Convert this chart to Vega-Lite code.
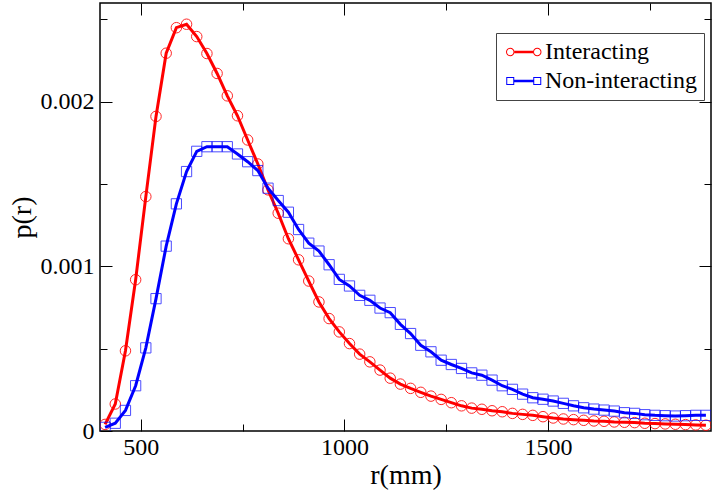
{
  "$schema": "https://vega.github.io/schema/vega-lite/v6.json",
  "width": 611,
  "height": 428,
  "autosize": "none",
  "padding": {"left": 100, "top": 3, "right": 4, "bottom": 59},
  "background": "white",
  "config": {
    "view": {"stroke": "#000", "strokeWidth": 1.5},
    "axis": {"domain": false, "grid": false, "tickColor": "#000", "tickWidth": 1, "labelFont": "Liberation Serif", "labelFontSize": 24, "labelColor": "#000", "titleFont": "Liberation Serif", "titleFontSize": 28, "titleFontWeight": "normal", "titleColor": "#000"},
    "legend": {"labelFont": "Liberation Serif", "labelFontSize": 24, "labelColor": "#000"}
  },
  "datasets": {
    "curves": [
      {"r": 412.5, "p": 0.00004, "series": "Interacting"},
      {"r": 437.5, "p": 0.000164, "series": "Interacting"},
      {"r": 462.5, "p": 0.000487, "series": "Interacting"},
      {"r": 487.5, "p": 0.000919, "series": "Interacting"},
      {"r": 512.5, "p": 0.001424, "series": "Interacting"},
      {"r": 537.5, "p": 0.001911, "series": "Interacting"},
      {"r": 562.5, "p": 0.002295, "series": "Interacting"},
      {"r": 587.5, "p": 0.00245, "series": "Interacting"},
      {"r": 612.5, "p": 0.002471, "series": "Interacting"},
      {"r": 637.5, "p": 0.002396, "series": "Interacting"},
      {"r": 662.5, "p": 0.002293, "series": "Interacting"},
      {"r": 687.5, "p": 0.002172, "series": "Interacting"},
      {"r": 712.5, "p": 0.002036, "series": "Interacting"},
      {"r": 737.5, "p": 0.001915, "series": "Interacting"},
      {"r": 762.5, "p": 0.001768, "series": "Interacting"},
      {"r": 787.5, "p": 0.001622, "series": "Interacting"},
      {"r": 812.5, "p": 0.001465, "series": "Interacting"},
      {"r": 837.5, "p": 0.001323, "series": "Interacting"},
      {"r": 862.5, "p": 0.001168, "series": "Interacting"},
      {"r": 887.5, "p": 0.00104, "series": "Interacting"},
      {"r": 912.5, "p": 0.000911, "series": "Interacting"},
      {"r": 937.5, "p": 0.000784, "series": "Interacting"},
      {"r": 962.5, "p": 0.000683, "series": "Interacting"},
      {"r": 987.5, "p": 0.000602, "series": "Interacting"},
      {"r": 1012.5, "p": 0.000531, "series": "Interacting"},
      {"r": 1037.5, "p": 0.000467, "series": "Interacting"},
      {"r": 1062.5, "p": 0.00042, "series": "Interacting"},
      {"r": 1087.5, "p": 0.00037, "series": "Interacting"},
      {"r": 1112.5, "p": 0.000321, "series": "Interacting"},
      {"r": 1137.5, "p": 0.000285, "series": "Interacting"},
      {"r": 1162.5, "p": 0.000259, "series": "Interacting"},
      {"r": 1187.5, "p": 0.000235, "series": "Interacting"},
      {"r": 1212.5, "p": 0.000212, "series": "Interacting"},
      {"r": 1237.5, "p": 0.000192, "series": "Interacting"},
      {"r": 1262.5, "p": 0.000172, "series": "Interacting"},
      {"r": 1287.5, "p": 0.000153, "series": "Interacting"},
      {"r": 1312.5, "p": 0.000139, "series": "Interacting"},
      {"r": 1337.5, "p": 0.000132, "series": "Interacting"},
      {"r": 1362.5, "p": 0.000123, "series": "Interacting"},
      {"r": 1387.5, "p": 0.000117, "series": "Interacting"},
      {"r": 1412.5, "p": 0.000107, "series": "Interacting"},
      {"r": 1437.5, "p": 0.000101, "series": "Interacting"},
      {"r": 1462.5, "p": 0.000095, "series": "Interacting"},
      {"r": 1487.5, "p": 0.000087, "series": "Interacting"},
      {"r": 1512.5, "p": 0.000079, "series": "Interacting"},
      {"r": 1537.5, "p": 0.000073, "series": "Interacting"},
      {"r": 1562.5, "p": 0.000069, "series": "Interacting"},
      {"r": 1587.5, "p": 0.000065, "series": "Interacting"},
      {"r": 1612.5, "p": 0.000061, "series": "Interacting"},
      {"r": 1637.5, "p": 0.000059, "series": "Interacting"},
      {"r": 1662.5, "p": 0.000055, "series": "Interacting"},
      {"r": 1687.5, "p": 0.000053, "series": "Interacting"},
      {"r": 1712.5, "p": 0.000051, "series": "Interacting"},
      {"r": 1737.5, "p": 0.000047, "series": "Interacting"},
      {"r": 1762.5, "p": 0.000045, "series": "Interacting"},
      {"r": 1787.5, "p": 0.000043, "series": "Interacting"},
      {"r": 1812.5, "p": 0.000041, "series": "Interacting"},
      {"r": 1837.5, "p": 0.000039, "series": "Interacting"},
      {"r": 1862.5, "p": 0.000037, "series": "Interacting"},
      {"r": 1887.5, "p": 0.000035, "series": "Interacting"},
      {"r": 412.5, "p": 0.000022, "series": "Non-interacting"},
      {"r": 437.5, "p": 0.000047, "series": "Non-interacting"},
      {"r": 462.5, "p": 0.000125, "series": "Non-interacting"},
      {"r": 487.5, "p": 0.000275, "series": "Non-interacting"},
      {"r": 512.5, "p": 0.000505, "series": "Non-interacting"},
      {"r": 537.5, "p": 0.000804, "series": "Non-interacting"},
      {"r": 562.5, "p": 0.001123, "series": "Non-interacting"},
      {"r": 587.5, "p": 0.00138, "series": "Non-interacting"},
      {"r": 612.5, "p": 0.001576, "series": "Non-interacting"},
      {"r": 637.5, "p": 0.001699, "series": "Non-interacting"},
      {"r": 662.5, "p": 0.001727, "series": "Non-interacting"},
      {"r": 687.5, "p": 0.001727, "series": "Non-interacting"},
      {"r": 712.5, "p": 0.001727, "series": "Non-interacting"},
      {"r": 737.5, "p": 0.001683, "series": "Non-interacting"},
      {"r": 762.5, "p": 0.001636, "series": "Non-interacting"},
      {"r": 787.5, "p": 0.001582, "series": "Non-interacting"},
      {"r": 812.5, "p": 0.001475, "series": "Non-interacting"},
      {"r": 837.5, "p": 0.0014, "series": "Non-interacting"},
      {"r": 862.5, "p": 0.001329, "series": "Non-interacting"},
      {"r": 887.5, "p": 0.001224, "series": "Non-interacting"},
      {"r": 912.5, "p": 0.001141, "series": "Non-interacting"},
      {"r": 937.5, "p": 0.001093, "series": "Non-interacting"},
      {"r": 962.5, "p": 0.00101, "series": "Non-interacting"},
      {"r": 987.5, "p": 0.000921, "series": "Non-interacting"},
      {"r": 1012.5, "p": 0.000881, "series": "Non-interacting"},
      {"r": 1037.5, "p": 0.000824, "series": "Non-interacting"},
      {"r": 1062.5, "p": 0.000794, "series": "Non-interacting"},
      {"r": 1087.5, "p": 0.000747, "series": "Non-interacting"},
      {"r": 1112.5, "p": 0.000719, "series": "Non-interacting"},
      {"r": 1137.5, "p": 0.000648, "series": "Non-interacting"},
      {"r": 1162.5, "p": 0.000592, "series": "Non-interacting"},
      {"r": 1187.5, "p": 0.000521, "series": "Non-interacting"},
      {"r": 1212.5, "p": 0.000481, "series": "Non-interacting"},
      {"r": 1237.5, "p": 0.00043, "series": "Non-interacting"},
      {"r": 1262.5, "p": 0.000404, "series": "Non-interacting"},
      {"r": 1287.5, "p": 0.00038, "series": "Non-interacting"},
      {"r": 1312.5, "p": 0.000353, "series": "Non-interacting"},
      {"r": 1337.5, "p": 0.000339, "series": "Non-interacting"},
      {"r": 1362.5, "p": 0.000309, "series": "Non-interacting"},
      {"r": 1387.5, "p": 0.000275, "series": "Non-interacting"},
      {"r": 1412.5, "p": 0.000253, "series": "Non-interacting"},
      {"r": 1437.5, "p": 0.000224, "series": "Non-interacting"},
      {"r": 1462.5, "p": 0.000202, "series": "Non-interacting"},
      {"r": 1487.5, "p": 0.000193, "series": "Non-interacting"},
      {"r": 1512.5, "p": 0.000182, "series": "Non-interacting"},
      {"r": 1537.5, "p": 0.000168, "series": "Non-interacting"},
      {"r": 1562.5, "p": 0.000153, "series": "Non-interacting"},
      {"r": 1587.5, "p": 0.000141, "series": "Non-interacting"},
      {"r": 1612.5, "p": 0.000133, "series": "Non-interacting"},
      {"r": 1637.5, "p": 0.000127, "series": "Non-interacting"},
      {"r": 1662.5, "p": 0.000121, "series": "Non-interacting"},
      {"r": 1687.5, "p": 0.000111, "series": "Non-interacting"},
      {"r": 1712.5, "p": 0.000107, "series": "Non-interacting"},
      {"r": 1737.5, "p": 0.000099, "series": "Non-interacting"},
      {"r": 1762.5, "p": 0.000095, "series": "Non-interacting"},
      {"r": 1787.5, "p": 0.000093, "series": "Non-interacting"},
      {"r": 1812.5, "p": 0.000091, "series": "Non-interacting"},
      {"r": 1837.5, "p": 0.000093, "series": "Non-interacting"},
      {"r": 1862.5, "p": 0.000095, "series": "Non-interacting"},
      {"r": 1887.5, "p": 0.000095, "series": "Non-interacting"}
    ]
  },
  "data": {"name": "curves"},
  "resolve": {"axis": {"x": "independent", "y": "independent"}},
  "encoding": {
    "color": {"field": "series", "type": "nominal", "scale": {"domain": ["Interacting", "Non-interacting"], "range": ["#ff0000", "#0000ff"]},
              "legend": {"orient": "none", "legendX": 396, "legendY": 30, "title": null, "padding": 7, "labelOffset": 18, "rowPadding": 5,
                         "strokeColor": "#444", "fillColor": "#ffffff",
                         "encode": {"symbols": {"update": {
                           "shape": {"signal": "datum.value === 'Interacting' ? 'M-0.1,0 A0.85,0.85 0 1,1 -1.8,0 A0.85,0.85 0 1,1 -0.1,0 Z M-0.3,0 A0.65,0.65 0 1,0 -1.6,0 A0.65,0.65 0 1,0 -0.3,0 Z M5.3,0 A0.85,0.85 0 1,1 3.6,0 A0.85,0.85 0 1,1 5.3,0 Z M5.1,0 A0.65,0.65 0 1,0 3.8,0 A0.65,0.65 0 1,0 5.1,0 Z M-0.1,-0.25 L3.6,-0.25 L3.6,0.25 L-0.1,0.25 Z' : 'M-1.75,-0.8 L-0.15,-0.8 L-0.15,0.8 L-1.75,0.8 Z M-1.55,-0.6 L-1.55,0.6 L-0.35,0.6 L-0.35,-0.6 Z M3.65,-0.8 L5.25,-0.8 L5.25,0.8 L3.65,0.8 Z M3.85,-0.6 L3.85,0.6 L5.05,0.6 L5.05,-0.6 Z M-0.15,-0.25 L3.65,-0.25 L3.65,0.25 L-0.15,0.25 Z'"},
                           "fill": {"signal": "datum.value === 'Interacting' ? '#ff0000' : '#0000ff'"},
                           "stroke": {"value": "transparent"},
                           "strokeWidth": {"value": 0},
                           "size": {"value": 100},
                           "opacity": {"value": 1}
                         }}}}}
  },
  "layer": [
    {
      "transform": [{"filter": "datum.series === 'Interacting'"}],
      "mark": {"type": "point", "shape": "circle", "filled": false, "strokeWidth": 1, "size": 110, "opacity": 0.85, "clip": true},
      "encoding": {
        "x": {"field": "r", "type": "quantitative", "scale": {"domain": [400, 1900], "nice": false, "zero": false},
              "axis": {"orient": "bottom", "values": [750, 1250, 1750], "tickSize": -7, "labels": false, "title": null}},
        "y": {"field": "p", "type": "quantitative", "scale": {"domain": [0, 0.0026], "nice": false},
              "axis": {"orient": "left", "values": [0.0005, 0.0015, 0.0025], "tickSize": -7, "labels": false, "title": null}}
      }
    },
    {
      "transform": [{"filter": "datum.series === 'Interacting'"}],
      "mark": {"type": "line", "strokeWidth": 3, "clip": true},
      "encoding": {
        "x": {"field": "r", "type": "quantitative", "scale": {"domain": [400, 1900], "nice": false, "zero": false},
              "axis": {"orient": "bottom", "values": [500, 1000, 1500], "tickSize": -12, "format": "d", "labelPadding": 16, "title": "r(mm)", "titlePadding": 2}},
        "y": {"field": "p", "type": "quantitative", "scale": {"domain": [0, 0.0026], "nice": false},
              "axis": {"orient": "left", "values": [0, 0.001, 0.002], "tickSize": -12, "format": "~g", "labelPadding": 18, "title": "p(r)", "titlePadding": 4}}
      }
    },
    {
      "transform": [{"filter": "datum.series === 'Non-interacting'"}],
      "mark": {"type": "point", "shape": "square", "filled": false, "strokeWidth": 1, "size": 105, "opacity": 0.7, "clip": true},
      "encoding": {
        "x": {"field": "r", "type": "quantitative", "scale": {"domain": [400, 1900], "nice": false, "zero": false},
              "axis": {"orient": "top", "values": [750, 1250, 1750], "tickSize": -7, "labels": false, "title": null}},
        "y": {"field": "p", "type": "quantitative", "scale": {"domain": [0, 0.0026], "nice": false},
              "axis": {"orient": "right", "values": [0.0005, 0.0015, 0.0025], "tickSize": -7, "labels": false, "title": null}}
      }
    },
    {
      "transform": [{"filter": "datum.series === 'Non-interacting'"}],
      "mark": {"type": "line", "strokeWidth": 3, "clip": true},
      "encoding": {
        "x": {"field": "r", "type": "quantitative", "scale": {"domain": [400, 1900], "nice": false, "zero": false},
              "axis": {"orient": "top", "values": [500, 1000, 1500], "tickSize": -12, "labels": false, "title": null}},
        "y": {"field": "p", "type": "quantitative", "scale": {"domain": [0, 0.0026], "nice": false},
              "axis": {"orient": "right", "values": [0.001, 0.002], "tickSize": -12, "labels": false, "title": null}}
      }
    }
  ]
}
